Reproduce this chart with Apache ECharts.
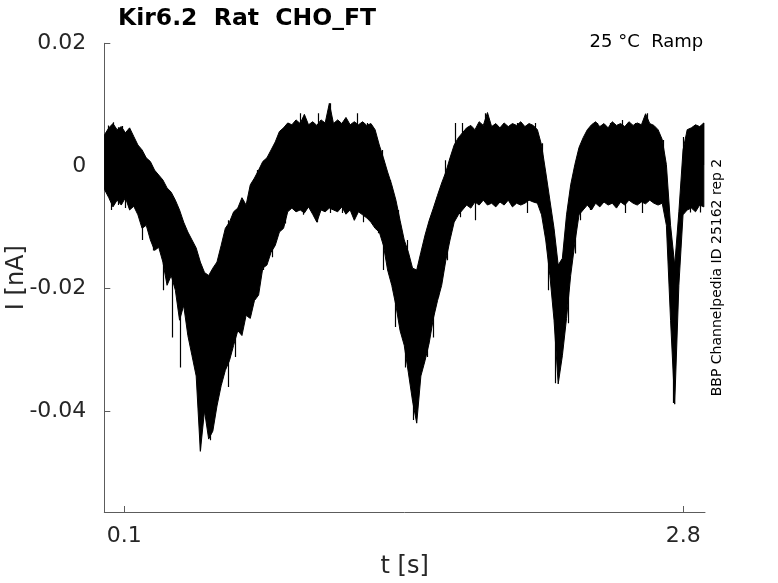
<!DOCTYPE html>
<html>
<head>
<meta charset="utf-8">
<script src="https://cdn.jsdelivr.net/npm/echarts@6/dist/echarts.min.js"></script>
<style>
html,body{margin:0;padding:0;background:#fff;}
#main{width:778px;height:583px;}
</style>
</head>
<body>
<div id="main"></div>
<script>
// Sampling grid of the recording (seconds)
const T0 = 0.005;
const DT = 0.0201;

// Upper edge of the noisy current trace (nA), one value per sample
const upper = [
  0.0051, 0.0062, 0.0069, 0.0059, 0.0064, 0.0054, 0.0062, 0.0048, 0.0034, 0.0026,
  0.0013, 0.0007, -0.0007, -0.0015, -0.0023, -0.0036, -0.0043, -0.0056, -0.0072, -0.0092,
  -0.0108, -0.0121, -0.0134, -0.0157, -0.0174, -0.0179, -0.0167, -0.0157, -0.0130, -0.0102,
  -0.0092, -0.0075, -0.0069, -0.0052, -0.0064, -0.0031, -0.0020, -0.0007, 0.0007, 0.0013,
  0.0026, 0.0039, 0.0056, 0.0062, 0.0070, 0.0067, 0.0075, 0.0069, 0.0084, 0.0067,
  0.0072, 0.0066, 0.0075, 0.0070, 0.0102, 0.0069, 0.0075, 0.0069, 0.0079, 0.0067,
  0.0072, 0.0067, 0.0072, 0.0066, 0.0069, 0.0059, 0.0034, 0.0013, -0.0010, -0.0031,
  -0.0056, -0.0089, -0.0121, -0.0141, -0.0167, -0.0170, -0.0141, -0.0113, -0.0089, -0.0069,
  -0.0048, -0.0028, -0.0010, 0.0013, 0.0034, 0.0046, 0.0054, 0.0062, 0.0066, 0.0059,
  0.0072, 0.0066, 0.0087, 0.0064, 0.0069, 0.0062, 0.0070, 0.0064, 0.0069, 0.0066,
  0.0072, 0.0064, 0.0069, 0.0066, 0.0059, 0.0034, -0.0010, -0.0056, -0.0102, -0.0162,
  -0.0151, -0.0080, -0.0031, 0.0002, 0.0030, 0.0046, 0.0059, 0.0067, 0.0072, 0.0064,
  0.0069, 0.0062, 0.0072, 0.0066, 0.0069, 0.0064, 0.0072, 0.0066, 0.0070, 0.0067,
  0.0085, 0.0069, 0.0066, 0.0059, 0.0043, 0.0002, -0.0097, -0.0162, -0.0075, 0.0026,
  0.0059, 0.0062, 0.0067, 0.0064, 0.0070
];

// Lower edge of the noisy current trace (nA), one value per sample
const lower = [
  -0.0039, -0.0052, -0.0067, -0.0056, -0.0064, -0.0052, -0.0072, -0.0066, -0.0080, -0.0102,
  -0.0097, -0.0121, -0.0138, -0.0133, -0.0157, -0.0195, -0.0179, -0.0203, -0.0252, -0.0228,
  -0.0277, -0.0310, -0.0343, -0.0466, -0.0400, -0.0446, -0.0433, -0.0392, -0.0359, -0.0334,
  -0.0318, -0.0293, -0.0269, -0.0277, -0.0244, -0.0249, -0.0220, -0.0211, -0.0167, -0.0162,
  -0.0141, -0.0130, -0.0108, -0.0102, -0.0075, -0.0069, -0.0075, -0.0072, -0.0077, -0.0067,
  -0.0079, -0.0092, -0.0072, -0.0075, -0.0069, -0.0072, -0.0075, -0.0067, -0.0079, -0.0072,
  -0.0089, -0.0075, -0.0080, -0.0085, -0.0092, -0.0102, -0.0108, -0.0130, -0.0170, -0.0195,
  -0.0228, -0.0269, -0.0293, -0.0338, -0.0384, -0.0420, -0.0343, -0.0318, -0.0289, -0.0249,
  -0.0220, -0.0195, -0.0154, -0.0121, -0.0092, -0.0080, -0.0072, -0.0064, -0.0069, -0.0059,
  -0.0064, -0.0056, -0.0064, -0.0061, -0.0067, -0.0059, -0.0064, -0.0056, -0.0067, -0.0061,
  -0.0064, -0.0061, -0.0056, -0.0059, -0.0061, -0.0080, -0.0121, -0.0179, -0.0252, -0.0356,
  -0.0310, -0.0249, -0.0179, -0.0126, -0.0080, -0.0072, -0.0064, -0.0072, -0.0061, -0.0067,
  -0.0059, -0.0064, -0.0061, -0.0069, -0.0059, -0.0064, -0.0056, -0.0061, -0.0064, -0.0059,
  -0.0062, -0.0056, -0.0061, -0.0064, -0.0061, -0.0097, -0.0252, -0.0389, -0.0195, -0.0080,
  -0.0072, -0.0069, -0.0075, -0.0064, -0.0067
];

// Isolated noise spikes sticking out of the trace: [t (s), tip (nA)]
const upSpikes = [
  [0.0213, 0.0066], [0.0454, 0.0071], [0.0696, 0.0063], [0.0889, 0.0065], [0.1179, 0.0057],
  [0.1517, 0.0039], [0.1995, 0.0009], [0.2289, -0.0020], [0.2869, -0.0035], [0.3594, -0.0085],
  [0.4173, -0.0129], [0.6009, -0.0089], [0.6492, -0.0076], [0.6733, -0.0056], [0.7168, -0.0040],
  [0.7409, -0.0007], [0.7796, 0.0009], [0.8182, 0.0026], [0.8520, 0.0053], [0.8907, 0.0070],
  [0.9486, 0.0086], [1.0356, 0.0086], [1.0935, 0.0102], [1.2239, 0.0086], [1.2722, 0.0070],
  [1.3447, 0.0026], [1.3833, -0.0023], [1.4220, -0.0072], [1.4654, -0.0121], [1.5620, -0.0116],
  [1.6103, -0.0051], [1.6490, 0.0009], [1.6973, 0.0070], [1.7311, 0.0070], [1.8422, 0.0086],
  [1.9146, 0.0063], [1.9967, 0.0070], [2.0837, 0.0070], [2.1175, 0.0037], [2.2914, 0.0021],
  [2.3348, 0.0047], [2.3831, 0.0070], [2.4459, 0.0070], [2.5039, 0.0075], [2.5667, 0.0070],
  [2.6246, 0.0086], [2.6729, 0.0053], [2.7019, 0.0042], [2.7985, 0.0047], [2.8468, 0.0063],
  [2.8951, 0.0070]
];
const downSpikes = [
  [0.0358, -0.0072], [0.0696, -0.0064], [0.1034, -0.0069], [0.1855, -0.0121], [0.2386, -0.0138],
  [0.2869, -0.0203], [0.3304, -0.0280], [0.3690, -0.0329], [0.4656, -0.0464], [0.5139, -0.0448],
  [0.6009, -0.0361], [0.6347, -0.0312], [0.6975, -0.0247], [0.7264, -0.0214], [0.7699, -0.0170],
  [0.8134, -0.0149], [0.8520, -0.0105], [0.8762, -0.0094], [0.9341, -0.0072], [0.9631, -0.0080],
  [1.0308, -0.0092], [1.0935, -0.0077], [1.1515, -0.0077], [1.2529, -0.0092], [1.2964, -0.0094],
  [1.3254, -0.0110], [1.3495, -0.0170], [1.3833, -0.0170], [1.4075, -0.0263], [1.4558, -0.0329],
  [1.4944, -0.0415], [1.5620, -0.0312], [1.5910, -0.0280], [1.6152, -0.0214], [1.6586, -0.0154],
  [1.6731, -0.0094], [1.7214, -0.0084], [1.7938, -0.0089], [1.8518, -0.0061], [1.9291, -0.0061],
  [2.0450, -0.0077], [2.1465, -0.0203], [2.1803, -0.0355], [2.2044, -0.0322], [2.2431, -0.0257],
  [2.2769, -0.0143], [2.3010, -0.0089], [2.3493, -0.0072], [2.4314, -0.0061], [2.5183, -0.0077],
  [2.6004, -0.0077], [2.6729, -0.0061], [2.7502, -0.0387], [2.8323, -0.0076], [2.8806, -0.0076]
];

// Tick values
const xTicks = [0.1, 2.8];
const yTicks = [0.02, 0, -0.02, -0.04];

const titleText = 'Kir6.2  Rat  CHO_FT';
const condText = '25 \u00B0C  Ramp';
const sideText = 'BBP Channelpedia ID 25162 rep 2';

const bandData = upper.map((v, i) => [T0 + i * DT, v, lower[i]]);

// centre of the trace at the sample nearest to a time (spike base)
function bandMid(t) {
  let k = Math.round((t - T0) / DT);
  k = Math.max(0, Math.min(upper.length - 1, k));
  return (upper[k] + lower[k]) / 2;
}
const spikeData = upSpikes.concat(downSpikes).map(s => [s[0], s[1], bandMid(s[0])]);

const AX = '#5c5c5c';
const TXT = '#262626';
const FF = '"DejaVu Sans", sans-serif';
const fmt = v => String(+(+v).toFixed(2));

function renderBand(params, api) {
  if (params.dataIndexInside !== 0) return null;
  const n = params.dataInsideLength;
  const top = [], bot = [];
  for (let j = 0; j < n; j++) {
    const t = api.value(0, j);
    top.push(api.coord([t, api.value(1, j)]));
    bot.push(api.coord([t, api.value(2, j)]));
  }
  return {
    type: 'polygon',
    shape: {points: top.concat(bot.reverse())},
    style: {fill: '#000', stroke: '#000', lineWidth: 1},
    silent: true
  };
}

function renderSpike(params, api) {
  const a = api.coord([api.value(0), api.value(1)]);
  const b = api.coord([api.value(0), api.value(2)]);
  const x = Math.round(a[0]) + 0.5;
  return {
    type: 'line',
    shape: {x1: x, y1: a[1], x2: x, y2: b[1]},
    style: {stroke: '#000', lineWidth: 1.2},
    silent: true
  };
}

const chart = echarts.init(document.getElementById('main'), null, {renderer: 'canvas'});
chart.setOption({
  animation: false,
  backgroundColor: '#ffffff',
  grid: {left: 104.3, right: 73, top: 43.3, bottom: 71, containLabel: false, outerBoundsMode: 'none'},
  xAxis: {
    type: 'value', min: 0.0034, max: 2.905,
    axisLine: {show: true, onZero: false, lineStyle: {color: AX, width: 1}},
    axisTick: {show: true, inside: true, length: 6, customValues: xTicks, lineStyle: {color: AX, width: 1}},
    axisLabel: {customValues: xTicks, fontSize: 22, color: TXT, margin: 13, fontFamily: FF, formatter: fmt},
    splitLine: {show: false},
    name: 't [s]', nameLocation: 'middle', nameGap: 43, nameMoveOverlap: false,
    nameTextStyle: {fontSize: 24, color: TXT, fontFamily: FF}
  },
  yAxis: {
    type: 'value', min: -0.0565, max: 0.02,
    axisLine: {show: true, onZero: false, lineStyle: {color: AX, width: 1}},
    axisTick: {show: true, inside: true, length: 6, customValues: yTicks, lineStyle: {color: AX, width: 1}},
    axisLabel: {customValues: yTicks, fontSize: 22, color: TXT, margin: 18, fontFamily: FF, formatter: fmt},
    splitLine: {show: false},
    name: 'I [nA]', nameLocation: 'middle', nameGap: 76, nameMoveOverlap: false,
    nameTextStyle: {fontSize: 24, color: TXT, fontFamily: FF}
  },
  series: [
    {
      name: 'trace', type: 'custom', data: bandData,
      encode: {x: 0, y: [1, 2]},
      renderItem: renderBand, clip: true, silent: true
    },
    {
      name: 'spikes', type: 'custom', data: spikeData,
      encode: {x: 0, y: [1, 2]},
      renderItem: renderSpike, clip: true, silent: true
    }
  ],
  graphic: [
    {type: 'text', x: 247, y: 18.8,
     style: {text: titleText, font: 'bold 23.5px "DejaVu Sans"', fill: '#000', align: 'center', verticalAlign: 'middle'}},
    {type: 'text', x: 703.3, y: 42,
     style: {text: condText, font: '18px "DejaVu Sans"', fill: '#000', align: 'right', verticalAlign: 'middle'}},
    {type: 'text', x: 717, y: 277.5, rotation: Math.PI / 2,
     style: {text: sideText, font: '14px "DejaVu Sans"', fill: '#000', align: 'center', verticalAlign: 'middle'}}
  ]
});
</script>
</body>
</html>
